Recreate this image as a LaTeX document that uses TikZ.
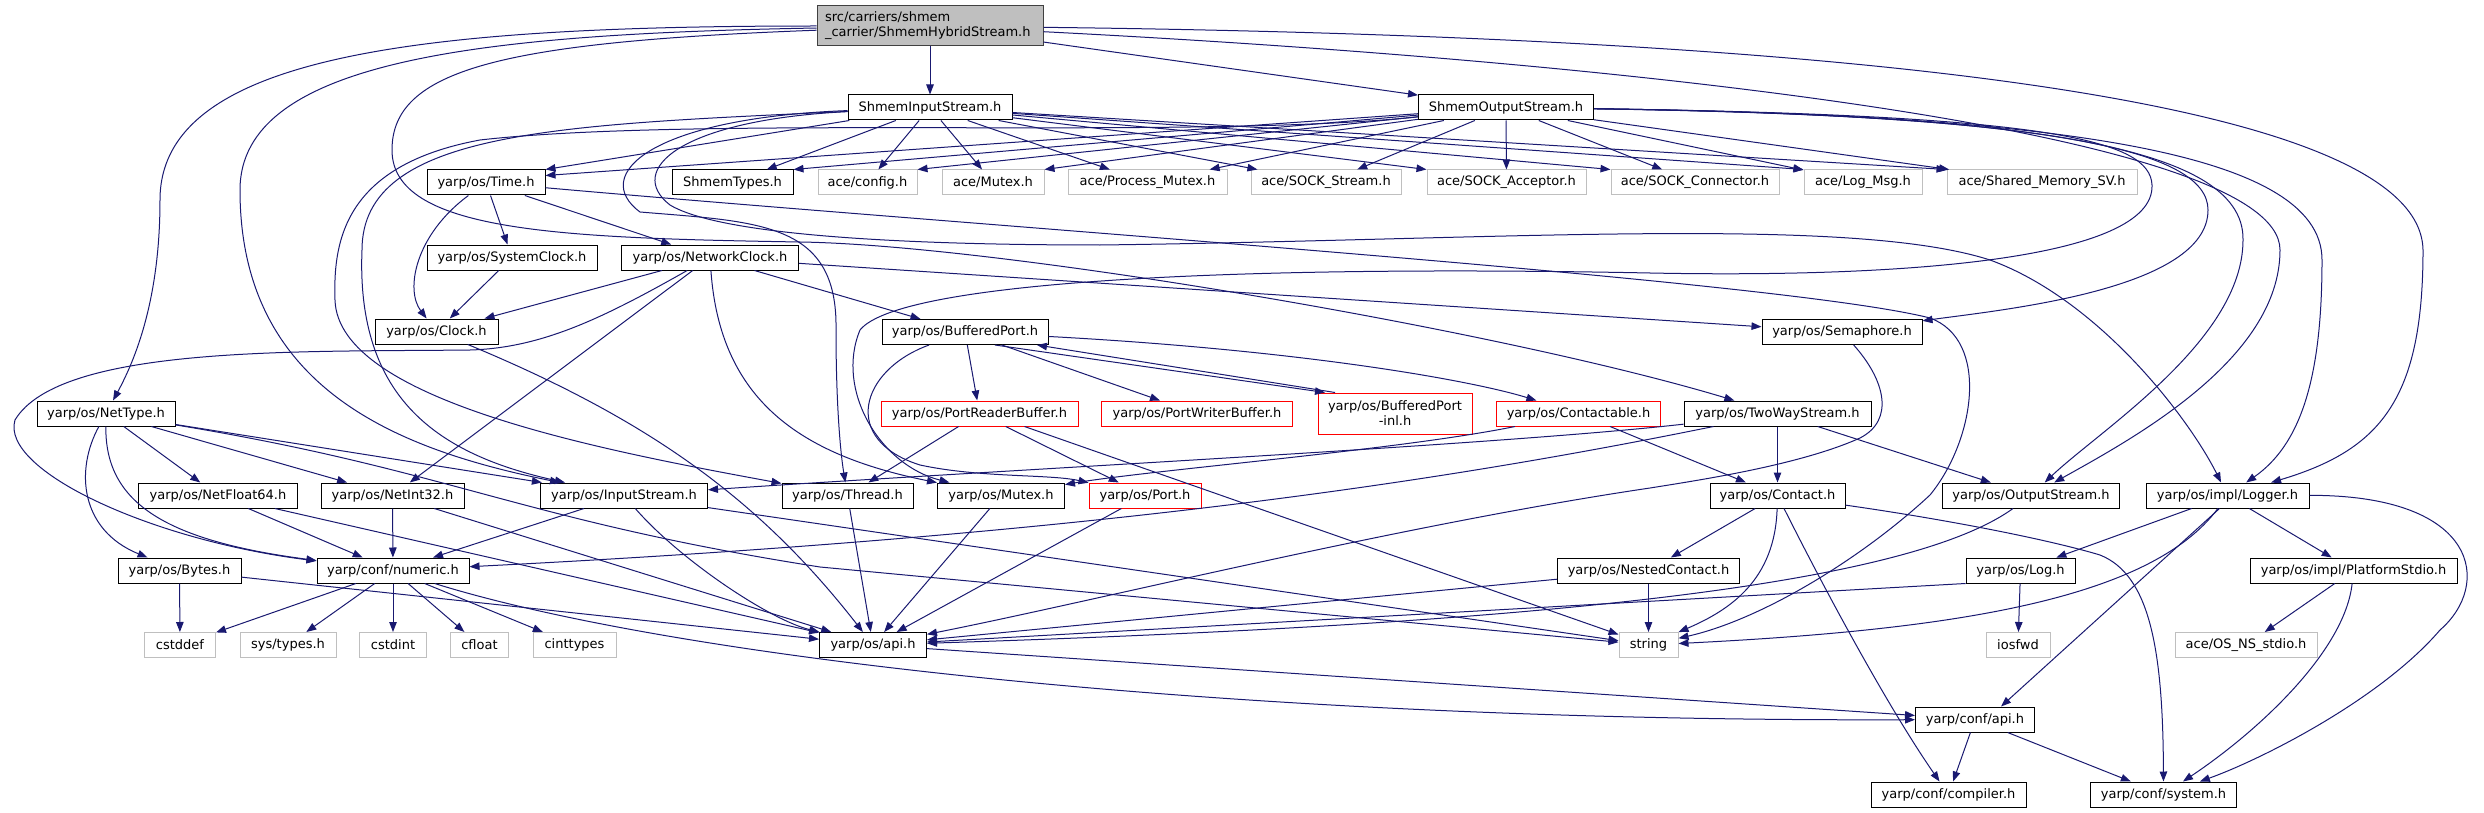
\documentclass[tikz,border=0pt]{standalone}
\usepackage{fontspec}
\setmainfont{DejaVu Sans}
\usetikzlibrary{arrows.meta}
\definecolor{edgeblue}{HTML}{191970}
\definecolor{rootgray}{HTML}{BFBFBF}
\definecolor{rootborder}{HTML}{404040}
\definecolor{sysgray}{HTML}{BFBFBF}
\definecolor{truncred}{HTML}{FF0000}

\begin{document}
\begin{tikzpicture}[x=1pt, y=-1pt,
    filebox/.style={rectangle, fill=white, line width=1pt, minimum height=25pt,
      inner sep=0pt, font=\fontsize{13}{15}\selectfont},
    hdr/.style={filebox, draw=black, minimum width=#1},
    sys/.style={filebox, draw=sysgray, minimum width=#1},
    trunc/.style={filebox, draw=truncred, minimum width=#1},
    rootbox/.style={rectangle, draw=rootborder, fill=rootgray, line width=1pt,
      text width=210pt, inner xsep=8pt, inner ysep=3pt, minimum height=40pt,
      align=left, font=\fontsize{13}{15}\selectfont},
    dep/.style={draw=edgeblue, line width=1pt, -{Triangle[length=10pt,width=7.5pt]}}
  ]
  \useasboundingbox (0,0) rectangle (2484,813);

  \node[rootbox] (root) at (930,26) {src/carriers/shmem\\\_carrier/ShmemHybridStream.h};

  \node[hdr=164pt] (shmemin) at (930,107.5) {ShmemInputStream.h};
  \node[hdr=175pt] (shmemout) at (1506,107.5) {ShmemOutputStream.h};

  \node[hdr=118pt] (time) at (486,182.5) {yarp/os/Time.h};
  \node[hdr=121pt] (shmemtypes) at (732.5,182.5) {ShmemTypes.h};
  \node[sys=99pt] (aceconfig) at (867.5,182.5) {ace/config.h};
  \node[sys=102pt] (acemutex) at (993,182.5) {ace/Mutex.h};
  \node[sys=159pt] (aceprocmutex) at (1147.5,182.5) {ace/Process\_Mutex.h};
  \node[sys=150pt] (acestream) at (1326,182.5) {ace/SOCK\_Stream.h};
  \node[sys=159pt] (aceacceptor) at (1506.5,182.5) {ace/SOCK\_Acceptor.h};
  \node[sys=168pt] (aceconnector) at (1695,182.5) {ace/SOCK\_Connector.h};
  \node[sys=118pt] (acelogmsg) at (1863,182.5) {ace/Log\_Msg.h};
  \node[sys=190pt] (aceshmem) at (2042,182.5) {ace/Shared\_Memory\_SV.h};

  \node[hdr=170pt] (systemclock) at (512,257.5) {yarp/os/SystemClock.h};
  \node[hdr=177pt] (networkclock) at (710,257.5) {yarp/os/NetworkClock.h};

  \node[hdr=123pt] (clock) at (436.5,331.5) {yarp/os/Clock.h};
  \node[hdr=166pt] (bufferedport) at (965,332) {yarp/os/BufferedPort.h};
  \node[hdr=160pt] (semaphore) at (1842,332) {yarp/os/Semaphore.h};

  \node[hdr=138pt] (nettype) at (106,413.5) {yarp/os/NetType.h};
  \node[trunc=197pt] (portreader) at (979.5,413.5) {yarp/os/PortReaderBuffer.h};
  \node[trunc=191pt] (portwriter) at (1197,413.5) {yarp/os/PortWriterBuffer.h};
  \node[trunc=154pt, minimum height=41pt, align=center] (bufferedinl) at (1395,413.5) {yarp/os/BufferedPort\\-inl.h};
  \node[trunc=164pt] (contactable) at (1578.5,413.5) {yarp/os/Contactable.h};
  \node[hdr=187pt] (twoway) at (1777.5,413.5) {yarp/os/TwoWayStream.h};

  \node[hdr=159pt] (netfloat) at (218,495.5) {yarp/os/NetFloat64.h};
  \node[hdr=143pt] (netint) at (392.5,495.5) {yarp/os/NetInt32.h};
  \node[hdr=167pt] (inputstream) at (624,495.5) {yarp/os/InputStream.h};
  \node[hdr=131pt] (thread) at (847.5,495.5) {yarp/os/Thread.h};
  \node[hdr=127pt] (mutex) at (1001,495.5) {yarp/os/Mutex.h};
  \node[trunc=112pt] (port) at (1145,495.5) {yarp/os/Port.h};
  \node[hdr=135pt] (contact) at (1777.5,495.5) {yarp/os/Contact.h};
  \node[hdr=177pt] (outputstream) at (2031,495.5) {yarp/os/OutputStream.h};
  \node[hdr=163pt] (logger) at (2227.5,495.5) {yarp/os/impl/Logger.h};

  \node[hdr=123pt] (bytes) at (179.5,570.5) {yarp/os/Bytes.h};
  \node[hdr=152pt] (numeric) at (393,570.5) {yarp/conf/numeric.h};
  \node[hdr=182pt] (nested) at (1648.5,570.5) {yarp/os/NestedContact.h};
  \node[hdr=109pt] (log) at (2020.5,570.5) {yarp/os/Log.h};
  \node[hdr=207pt] (platformstdio) at (2353.5,570.5) {yarp/os/impl/PlatformStdio.h};

  \node[sys=71pt] (cstddef) at (180,645) {cstddef};
  \node[sys=96pt] (systypes) at (288,645) {sys/types.h};
  \node[sys=67pt] (cstdint) at (393,645) {cstdint};
  \node[sys=58pt] (cfloat) at (479.5,645) {cfloat};
  \node[sys=83pt] (cinttypes) at (574.5,645) {cinttypes};
  \node[hdr=107pt] (osapi) at (873,645) {yarp/os/api.h};
  \node[sys=59pt] (string) at (1648.5,645) {string};
  \node[sys=64pt] (iosfwd) at (2018,645) {iosfwd};
  \node[sys=142pt] (osnsstdio) at (2246,645) {ace/OS\_NS\_stdio.h};

  \node[hdr=119pt] (confapi) at (1975,719.5) {yarp/conf/api.h};
  \node[hdr=155pt] (compiler) at (1948.5,794.5) {yarp/conf/compiler.h};
  \node[hdr=146pt] (system) at (2163.5,794.5) {yarp/conf/system.h};

  \draw[dep] (root) -- (shmemin);
  \draw[dep] (root) -- (shmemout);
  \draw[dep] (root) .. controls (420,26) and (160,55) .. (160,200) .. controls (160,300) and (135,360) .. (nettype);
  \draw[dep] (root) .. controls (480,34) and (240,60) .. (240,190) .. controls (240,390) and (400,450) .. (inputstream);
  \draw[dep] (root) .. controls (500,42) and (392,70) .. (392,150) .. controls (392,232) and (560,238) .. (800,242) .. controls (1000,245) and (1500,330) .. (twoway);
  \draw[dep] (root) .. controls (1700,35) and (2420,80) .. (2423,250) .. controls (2423,400) and (2380,450) .. (logger);
  \draw[dep] (root) .. controls (1600,60) and (2280,130) .. (2280,250) .. controls (2280,360) and (2130,440) .. (outputstream);

  \draw[dep] (shmemin) -- (shmemtypes);
  \draw[dep] (shmemin) -- (time.north east);
  \draw[dep] (shmemin) -- (aceconfig);
  \draw[dep] (shmemin) -- (acemutex);
  \draw[dep] (shmemin) -- (aceprocmutex);
  \draw[dep] (shmemin) -- (acestream);
  \draw[dep] (shmemin) -- (aceacceptor.north west);
  \draw[dep] (shmemin) -- (aceconnector.north west);
  \draw[dep] (shmemin) -- (acelogmsg.north west);
  \draw[dep] (shmemin) -- (aceshmem.north west);
  \draw[dep] (shmemin) .. controls (650,118) and (590,175) .. (640,212) .. controls (760,222) and (838,222) .. (836,330) .. controls (836,400) and (840,450) .. (thread);
  \draw[dep] (shmemin) .. controls (560,125) and (362,130) .. (362,250) .. controls (356,400) and (440,455) .. (inputstream);
  \draw[dep] (shmemin) .. controls (680,120) and (625,170) .. (670,205) .. controls (720,235) and (900,245) .. (1100,245) .. controls (1500,240) and (1850,215) .. (1990,260) .. controls (2100,300) and (2190,420) .. (logger);

  \draw[dep] (shmemout) -- (shmemtypes.north east);
  \draw[dep] (shmemout) -- ([yshift=-6pt]time.north east);
  \draw[dep] (shmemout) -- (aceconfig.north east);
  \draw[dep] (shmemout) -- (acemutex.north east);
  \draw[dep] (shmemout) -- (aceprocmutex);
  \draw[dep] (shmemout) -- (acestream);
  \draw[dep] (shmemout) -- (aceacceptor);
  \draw[dep] (shmemout) -- (aceconnector);
  \draw[dep] (shmemout) -- (acelogmsg);
  \draw[dep] (shmemout) -- (aceshmem);
  \draw[dep] (shmemout) .. controls (2000,115) and (2245,140) .. (2243,240) .. controls (2243,340) and (2100,430) .. (outputstream);
  \draw[dep] (shmemout) .. controls (2050,115) and (2322,150) .. (2322,260) .. controls (2322,380) and (2300,445) .. (logger);
  \draw[dep] (shmemout) .. controls (2050,115) and (2208,150) .. (2208,210) .. controls (2208,290) and (2000,310) .. (semaphore);
  \draw[dep] (shmemout) .. controls (2050,115) and (2150,140) .. (2152,185) .. controls (2155,260) and (1900,278) .. (1650,273) .. controls (1250,265) and (900,280) .. (860,330) .. controls (835,390) and (880,465) .. (mutex);
  \draw[dep] (shmemout) .. controls (1200,140) and (700,115) .. (480,140) .. controls (345,165) and (333,240) .. (335,300) .. controls (338,400) and (600,450) .. (thread);

  \draw[dep] (time) -- (systemclock);
  \draw[dep] (time) -- (networkclock);
  \draw[dep] (time) .. controls (415,235) and (405,290) .. (clock);
  \draw[dep] (time) .. controls (1000,228) and (1780,280) .. (1930,318) .. controls (1990,340) and (1975,440) .. (1930,495) .. controls (1860,560) and (1760,620) .. (string);

  \draw[dep] (systemclock) -- (clock);
  \draw[dep] (networkclock) -- (clock);
  \draw[dep] (networkclock) -- (netint);
  \draw[dep] (networkclock) -- (bufferedport);
  \draw[dep] (networkclock) -- (semaphore);
  \draw[dep] (networkclock) .. controls (720,400) and (800,455) .. (mutex);
  \draw[dep] (networkclock) .. controls (600,320) and (540,348) .. (470,350) .. controls (300,352) and (60,345) .. (15,420) .. controls (0,470) and (150,540) .. (numeric);
  \draw[dep] (clock) .. controls (650,420) and (760,500) .. (osapi);

  \draw[dep] (nettype) .. controls (75,470) and (80,530) .. (bytes);
  \draw[dep] (nettype) .. controls (105,500) and (160,540) .. (numeric);
  \draw[dep] (nettype) -- (netfloat);
  \draw[dep] (nettype) -- (netint);
  \draw[dep] (nettype) -- (inputstream);
  \draw[dep] (nettype) .. controls (450,470) and (520,520) .. (820,567) -- (string);

  \draw[dep] (netfloat) -- (numeric);
  \draw[dep] (netfloat) -- (osapi);
  \draw[dep] (netint) -- (numeric);
  \draw[dep] (netint) -- (osapi);
  \draw[dep] (bytes) -- (cstddef);
  \draw[dep] (bytes) -- (osapi);
  \draw[dep] (numeric) -- (cstddef);
  \draw[dep] (numeric) -- (systypes);
  \draw[dep] (numeric) -- (cstdint);
  \draw[dep] (numeric) -- (cfloat);
  \draw[dep] (numeric) -- (cinttypes);
  \draw[dep] (numeric) .. controls (680,660) and (1250,722) .. (confapi);
  \draw[dep] (inputstream) -- (numeric);
  \draw[dep] (inputstream) .. controls (680,560) and (770,620) .. (osapi);
  \draw[dep] (inputstream) -- (string);

  \draw[dep] (bufferedport) -- (portreader);
  \draw[dep] (bufferedport) -- (portwriter);
  \draw[dep] ([xshift=30pt]bufferedport.south) -- ([xshift=-70pt]bufferedinl.north);
  \draw[dep] ([xshift=-60pt]bufferedinl.north) -- ([xshift=72pt]bufferedport.south);
  \draw[dep] (bufferedport) .. controls (1300,350) and (1470,380) .. (contactable);
  \draw[dep] (bufferedport) .. controls (860,370) and (840,440) .. (920,465) .. controls (980,478) and (1050,474) .. (port);
  \draw[dep] (portreader) -- (thread);
  \draw[dep] (portreader) -- (port);
  \draw[dep] ([xshift=45pt]portreader.south) -- (string);
  \draw[dep] (contactable) -- (contact);
  \draw[dep] (contactable) .. controls (1400,450) and (1150,470) .. (mutex);

  \draw[dep] (twoway) -- (contact);
  \draw[dep] (twoway) -- (outputstream);
  \draw[dep] (twoway) .. controls (1500,445) and (1000,470) .. (inputstream);
  \draw[dep] (twoway) .. controls (1450,480) and (1100,535) .. (numeric);

  \draw[dep] (thread) -- (osapi);
  \draw[dep] (mutex) -- (osapi);
  \draw[dep] (port) -- (osapi);
  \draw[dep] (semaphore) .. controls (1885,380) and (1895,420) .. (1860,438) .. controls (1800,465) and (1700,480) .. (1650,488) .. controls (1400,525) and (1100,600) .. (osapi);

  \draw[dep] (contact) -- (nested);
  \draw[dep] (contact) .. controls (1775,580) and (1730,610) .. (string);
  \draw[dep] (contact) .. controls (1830,600) and (1890,710) .. (compiler);
  \draw[dep] (contact) .. controls (1950,520) and (2050,540) .. (2100,555) .. controls (2150,575) and (2163,650) .. (system);
  \draw[dep] (nested) -- (osapi);
  \draw[dep] (nested) -- (string);
  \draw[dep] (outputstream) .. controls (1900,590) and (1500,625) .. (osapi);

  \draw[dep] (logger) -- (log);
  \draw[dep] (logger) -- (platformstdio);
  \draw[dep] ([xshift=-8pt]logger.south) -- ([xshift=26pt]confapi.north);
  \draw[dep] (logger) .. controls (2150,600) and (1950,630) .. (string);
  \draw[dep] (logger) .. controls (2480,495) and (2492,585) .. (2440,630) .. controls (2380,700) and (2260,760) .. (system);
  \draw[dep] (log.south west) -- (osapi);
  \draw[dep] (log) -- (iosfwd);
  \draw[dep] (platformstdio) -- (osnsstdio);
  \draw[dep] (platformstdio) .. controls (2345,650) and (2260,730) .. (system);

  \draw[dep] (osapi) -- (confapi);
  \draw[dep] (confapi) -- (compiler);
  \draw[dep] (confapi) -- (system);
\end{tikzpicture}
\end{document}
